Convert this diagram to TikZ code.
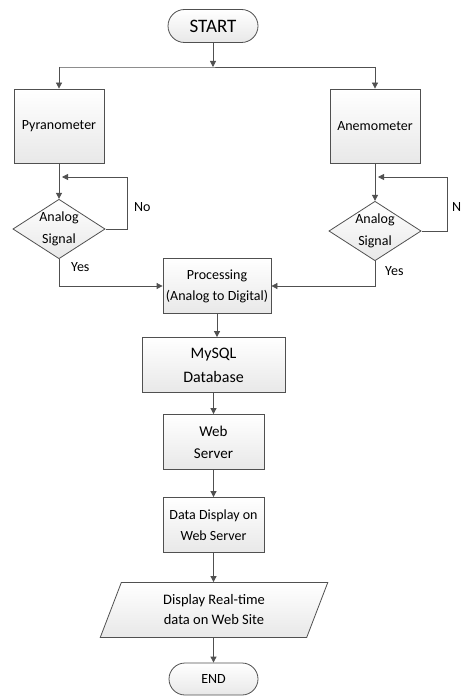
\documentclass[tikz,border=0pt]{standalone}
\usepackage{fontspec}
\setmainfont{Carlito}
\usetikzlibrary{shapes.geometric,shapes.misc,arrows.meta}
\definecolor{ln}{HTML}{505050}
\tikzset{
  box/.style={draw=ln, line width=0.8pt, top color=white, bottom color=gray!18, inner sep=0pt, align=center, font=\fontsize{14}{21}\selectfont},
  pill/.style={draw=ln, line width=0.8pt, rounded rectangle, top color=white, bottom color=gray!18, inner sep=0pt, font=\fontsize{19}{21}\selectfont},
  dia/.style={draw=ln, line width=0.8pt, diamond, aspect=1.55, top color=white, bottom color=gray!18, inner sep=0pt, align=center, font=\fontsize{14}{22}\selectfont},
  par/.style={draw=ln, line width=0.8pt, trapezium, trapezium left angle=69, trapezium right angle=111, top color=white, bottom color=gray!18, inner sep=0pt, align=center, font=\fontsize{14}{20}\selectfont},
  arr/.style={draw=ln, line width=0.8pt, -{Triangle[length=6pt,width=6pt]}},
  ln/.style={draw=ln, line width=0.8pt},
  lbl/.style={font=\fontsize{14}{16}\selectfont, inner sep=0pt}
}
\begin{document}
\begin{tikzpicture}[x=1pt,y=-1pt]
\useasboundingbox (0,0) rectangle (462,698);
\node[pill, minimum width=90pt, minimum height=33pt] (start) at (213,26) {START};
\node[box, minimum width=90pt, minimum height=74pt] (pyr) at (59,126) {Pyranometer};
\node[box, minimum width=90pt, minimum height=74pt] (ane) at (375,126) {Anemometer};
\node[dia, minimum width=90pt, minimum height=58pt] (d1) at (59,229) {Analog\\Signal};
\node[dia, minimum width=90pt, minimum height=56pt] (d2) at (375,231) {Analog\\Signal};
\node[box, minimum width=108pt, minimum height=55pt] (proc) at (217,286) {Processing\\(Analog to Digital)};
\node[box, minimum width=143pt, minimum height=55pt, font=\fontsize{16}{24}\selectfont] (db) at (213.5,365) {MySQL\\Database};
\node[box, minimum width=101pt, minimum height=55pt, font=\fontsize{15}{22}\selectfont] (web) at (213.5,442) {Web\\Server};
\node[box, minimum width=101pt, minimum height=55pt] (disp) at (213.5,525) {Data Display on\\Web Server};
\node[par, minimum width=166pt, minimum height=55pt, font=\fontsize{14.5}{20}\selectfont] (site) at (214,610) {Display Real-time\\data on Web Site};
\node[pill, minimum width=89pt, minimum height=32pt, font=\fontsize{14}{16}\selectfont] (end) at (213.5,679) {END};

\coordinate (split) at (213,67);
\draw[arr] (start.south) -- (split);
\draw[ln] (split) -- (split -| pyr.north) coordinate (sl) -- (split -| ane.north) coordinate (sr);
\draw[arr] (sl) -- (pyr.north);
\draw[arr] (sr) -- (ane.north);

\draw[arr] (pyr.south) -- (d1.north);
\coordinate (l1) at (127,177);
\draw[arr] (d1.east) -| (l1) -- (59+3,177);
\node[lbl, anchor=west] (no1) at (134,207) {No};

\draw[arr] (ane.south) -- (d2.north);
\coordinate (l2) at (447,177);
\draw[arr] (d2.east) -| (l2) -- (375+3,177);
\node[lbl, anchor=west] (no2) at (452,207) {N};

\draw[arr] (d1.south) |- (proc.west);
\node[lbl, anchor=west] (y1) at (71,267) {Yes};
\draw[arr] (d2.south) |- (proc.east);
\node[lbl, anchor=west] (y2) at (385,271) {Yes};

\draw[arr] (proc.south) -- (proc.south |- db.north);
\draw[arr] (db.south -| web.north) -- (web.north);
\draw[arr] (web.south) -- (disp.north);
\draw[arr] (disp.south) -- (disp.south |- site.north);
\draw[arr] (site.south -| end.north) -- (end.north);
\end{tikzpicture}
\end{document}
